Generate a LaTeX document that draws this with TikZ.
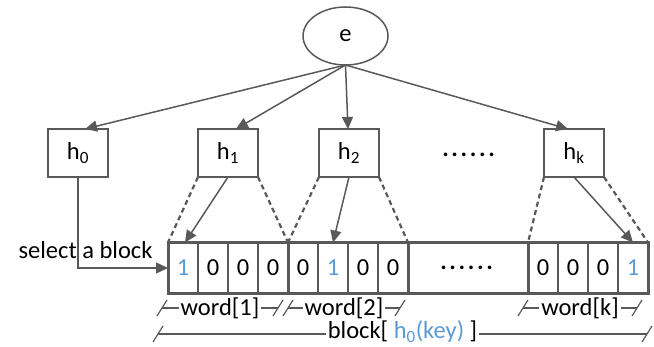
\documentclass[tikz,border=0pt]{standalone}
\usepackage{fontspec}
\setmainfont{Carlito}
\usetikzlibrary{positioning,arrows.meta,shapes.geometric}
\definecolor{linegray}{HTML}{595959}
\definecolor{keyblue}{HTML}{5B9BD5}

\begin{document}
\begin{tikzpicture}[x=1pt, y=-1pt,
    every node/.style={font=\fontsize{24.5}{28}\selectfont, inner sep=0pt, outer sep=0pt},
    hbox/.style={draw=linegray, line width=1.5pt, rectangle, minimum width=60pt, minimum height=48pt},
    cell/.style={draw=linegray, line width=1.5pt, rectangle, minimum width=30pt, minimum height=51pt},
    arr/.style={draw=linegray, line width=1.5pt, -{Triangle[length=12pt,width=11pt]}},
    dashln/.style={draw=linegray, line width=2.2pt, dash pattern=on 5pt off 3.5pt},
    wordbrd/.style={draw=linegray, line width=3pt},
    dimln/.style={draw=linegray, line width=1.2pt},
    dimtxt/.style={fill=white, inner xsep=2pt}]
    \useasboundingbox (0,0) rectangle (654,347);

    \node[ellipse, draw=linegray, line width=1.5pt, minimum width=85pt, minimum height=58pt] (e) at (345.5,36) {e};

    \node[hbox] (h0) at (78,153) {h\textsubscript{0}};
    \node[hbox] (h1) at (228,153) {h\textsubscript{1}};
    \node[hbox] (h2) at (349,153) {h\textsubscript{2}};
    \node[hbox] (hk) at (574,153) {h\textsubscript{k}};
    \node (hdots) at (470,155) {\addfontfeature{LetterSpace=11}\textbf{......}};

    % the block
    \node[cell] (w1c1) at (183,268) {\textcolor{keyblue}{1}};
    \node[cell, right=0pt of w1c1] (w1c2) {0};
    \node[cell, right=0pt of w1c2] (w1c3) {0};
    \node[cell, right=0pt of w1c3] (w1c4) {0};
    \node[cell, right=0pt of w1c4] (w2c1) {0};
    \node[cell, right=0pt of w2c1] (w2c2) {\textcolor{keyblue}{1}};
    \node[cell, right=0pt of w2c2] (w2c3) {0};
    \node[cell, right=0pt of w2c3] (w2c4) {0};
    \node[right=0pt of w2c4, minimum width=120pt, minimum height=51pt] (bdots) {\addfontfeature{LetterSpace=11}\textbf{......}};
    \node[cell, right=0pt of bdots] (wkc1) {0};
    \node[cell, right=0pt of wkc1] (wkc2) {0};
    \node[cell, right=0pt of wkc2] (wkc3) {0};
    \node[cell, right=0pt of wkc3] (wkc4) {\textcolor{keyblue}{1}};

    \draw[wordbrd] (w1c1.north west) rectangle (wkc4.south east);
    \draw[wordbrd] (w1c4.north east) -- (w1c4.south east);
    \draw[wordbrd] (w2c4.north east) -- (w2c4.south east);
    \draw[wordbrd] (wkc1.north west) -- (wkc1.south west);

    \draw[arr] (e.south) -- ([xshift=7pt]h0.north);
    \draw[arr] (e.south) -- ([xshift=8pt]h1.north);
    \draw[arr] (e.south) -- ([xshift=-1pt]h2.north);
    \draw[arr] (e.south) -- ([xshift=-6pt]hk.north);

    \draw[dashln] (h1.south west) -- (w1c1.north west);
    \draw[dashln] (h1.south east) -- (w1c4.north east);
    \draw[dashln] (h2.south west) -- (w2c1.north west);
    \draw[dashln] (h2.south east) -- (w2c4.north east);
    \draw[dashln] (hk.south west) -- (wkc1.north west);
    \draw[dashln] (hk.south east) -- (wkc4.north east);

    \draw[arr] (h1.south) -- ([xshift=2pt]w1c1.north);
    \draw[arr] (h2.south) -- (w2c2.north);
    \draw[arr] (hk.south) -- (wkc4.north);

    \node (sel) at (85.5,250) {select a block};
    \draw[arr] (h0.south) |- (w1c1.west);

    % words and block
    \coordinate (d1l) at (162,308);
    \coordinate (d1r) at (278,308);
    \coordinate (d2l) at (288,308);
    \coordinate (d2r) at (400,308);
    \coordinate (dkl) at (523,308);
    \coordinate (dkr) at (637,308);
    \coordinate (dbl) at (158,334);
    \coordinate (dbr) at (647,334);

    \draw[dimln] (d1l) -- node[dimtxt] {word[1]} (d1r);
    \draw[dimln] (d2l) -- node[dimtxt] {word[2]} (d2r);
    \draw[dimln] (dkl) -- node[dimtxt] {word[k]} (dkr);
    \draw[dimln] (dbl) -- node[dimtxt, yshift=2pt] {block[ \textcolor{keyblue}{h\textsubscript{0}(key)} ]} (dbr);

    \foreach \p in {d1l,d1r,d2l,d2r,dkl,dkr,dbl,dbr}
        \draw[dimln] ([shift={(-5,8)}]\p) -- ([shift={(5,-8)}]\p);
\end{tikzpicture}
\end{document}
